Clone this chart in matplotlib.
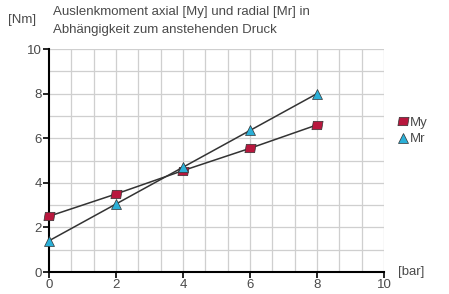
import numpy as np
import matplotlib
matplotlib.use("Agg")
import matplotlib.pyplot as plt
from matplotlib.path import Path

plt.rcParams['font.family'] = ['Liberation Sans', 'DejaVu Sans']

pressure = [0, 2, 4, 6, 8]
my_vals = [2.5, 3.5, 4.55, 5.55, 6.6]
mr_vals = [1.4, 3.05, 4.7, 6.35, 8.0]
xticks = [0, 2, 4, 6, 8, 10]
yticks = [0, 2, 4, 6, 8, 10]

txt = '#4a4a4a'
fig = plt.figure(figsize=(4.49, 2.94), dpi=100)
ax = fig.add_axes([0.109, 0.0748, 0.746, 0.758])
ax.set_xlim(0, 10)
ax.set_ylim(0, 10)

for xv in np.arange(1, 16) * 10 / 15:
    ax.axvline(xv, color='#cfcfcf', lw=0.9, zorder=0)
for yv in range(1, 11):
    ax.axhline(yv, color='#cfcfcf', lw=0.9, zorder=0)

para = Path([(-0.8, -0.6), (0.6, -0.6), (0.8, 0.6), (-0.6, 0.6), (-0.8, -0.6)],
            [Path.MOVETO, Path.LINETO, Path.LINETO, Path.LINETO, Path.CLOSEPOLY])

ax.plot(pressure, my_vals, color='#333333', lw=1.1, marker=para, ms=8,
        mfc='#b8173d', mec='#333333', mew=0.5, clip_on=False, zorder=3, label='My')
ax.plot(pressure, mr_vals, color='#333333', lw=1.1, marker='^', ms=7,
        mfc='#2bb0d8', mec='#333333', mew=0.5, clip_on=False, zorder=3, label='Mr')

for s in ['top', 'right']:
    ax.spines[s].set_visible(False)
for s in ['left', 'bottom']:
    ax.spines[s].set_color('black')
    ax.spines[s].set_linewidth(1.5)
ax.set_xticks(xticks)
ax.set_yticks(yticks)
ax.tick_params(colors='black', labelcolor=txt, labelsize=9.5, length=4, width=1.2, pad=1)

leg = ax.legend(loc='upper left', bbox_to_anchor=(1.025, 0.72), frameon=False,
                fontsize=9.5, handlelength=0.9, handletextpad=0.05, labelspacing=0.3,
                borderaxespad=0)
for t in leg.get_texts():
    t.set_color(txt)
for h in leg.get_lines():
    h.set_linestyle('none')

fig.text(8 / 449, 1 - 20 / 294, '[Nm]', fontsize=9.5, color=txt, va='center', ha='left')
fig.text(53 / 449, 1 - 12 / 294, 'Auslenkmoment axial [My] und radial [Mr] in', fontsize=9.5,
         color=txt, va='center', ha='left')
fig.text(53 / 449, 1 - 30 / 294, 'Abhängigkeit zum anstehenden Druck', fontsize=9.5,
         color=txt, va='center', ha='left')
fig.text(398 / 449, 1 - 272 / 294, '[bar]', fontsize=9.5, color=txt, va='center', ha='left')

fig.savefig('out.png', dpi=100)
